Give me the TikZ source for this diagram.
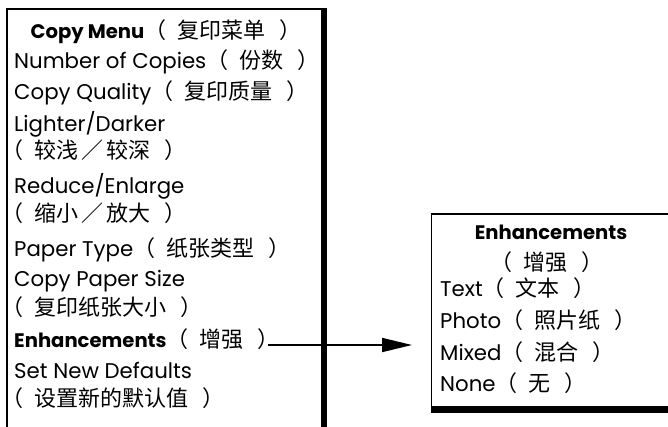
\documentclass[tikz,border=0pt]{standalone}
\usepackage{fontspec}
\setmainfont{Poppins}
\newfontfamily\cjk{Noto Sans CJK SC}
\usetikzlibrary{arrows.meta}
\newcommand\latsize{\fontsize{21.3}{21.3}\selectfont}
\newcommand\boldpart[1]{{\fontsize{19.6}{19.6}\selectfont\bfseries #1}}
\newcommand\zp[1]{{\cjk\fontsize{22}{22}\selectfont（\hspace{11pt}#1\hspace{14pt}）}}
\tikzset{
  lline/.style={font=\latsize, inner sep=0pt, anchor=base west},
  cline/.style={font=\latsize, inner sep=0pt, anchor=base},
  thinrule/.style={line width=1.2pt, line cap=rect},
  thickbar/.style={fill=black, draw=none},
  connector/.style={line width=1.8pt, -{Triangle[length=30pt,width=14pt]}},
}
\begin{document}
\begin{tikzpicture}[x=1pt,y=-1pt]
\useasboundingbox (0,0) rectangle (668,426);
% left box
\draw[thinrule] (7,440) -- (7,9) -- (321,9);
\fill[thickbar] (321,8.4) rectangle (326.5,440);
% right box
\draw[thinrule] (690,214) -- (431.5,214) -- (431.5,407);
\fill[thickbar] (430.9,406) rectangle (690,413);
% left menu texts
\node[cline] (l0) at (166,38.3) {\boldpart{Copy Menu}\zp{复印菜单}};
\node[lline] (l1) at (14,68.5) {Number of Copies\zp{份数}};
\node[lline] (l2) at (14,99.5) {Copy Quality\zp{复印质量}};
\node[lline] (l3) at (14,131) {Lighter/Darker};
\node[lline] (l4) at (1,158.5) {\zp{较浅\hspace{3pt}／\hspace{3pt}较深}};
\node[lline] (l5) at (14,193) {Reduce/Enlarge};
\node[lline] (l6) at (1,221.5) {\zp{缩小\hspace{3pt}／\hspace{3pt}放大}};
\node[lline] (l7) at (14,256.5) {Paper Type\zp{纸张类型}};
\node[lline] (l8) at (14,286.7) {Copy Paper Size};
\node[lline] (l9) at (1,315) {\zp{复印纸张大小}};
\node[lline] (l10) at (14,347.7) {\boldpart{Enhancements}\zp{增强}};
\node[lline] (l11) at (14,378.3) {Set New Defaults};
\node[lline] (l12) at (1,406.5) {\zp{设置新的默认值}};
% right submenu texts
\node[cline] (r0) at (551,239.3) {\boldpart{Enhancements}};
\node[cline] (r1) at (547,270.3) {\zp{增强}};
\node[lline] (r2) at (440,296.7) {Text\zp{文本}};
\node[lline] (r3) at (440,328.3) {Photo\zp{照片纸}};
\node[lline] (r4) at (440,360) {Mixed\zp{混合}};
\node[lline] (r5) at (440,391.7) {None\zp{无}};
% connector
\coordinate (tip) at (412,345);
\draw[connector] ([xshift=-12pt]l10.east |- tip) -- (tip);
\end{tikzpicture}
\end{document}
